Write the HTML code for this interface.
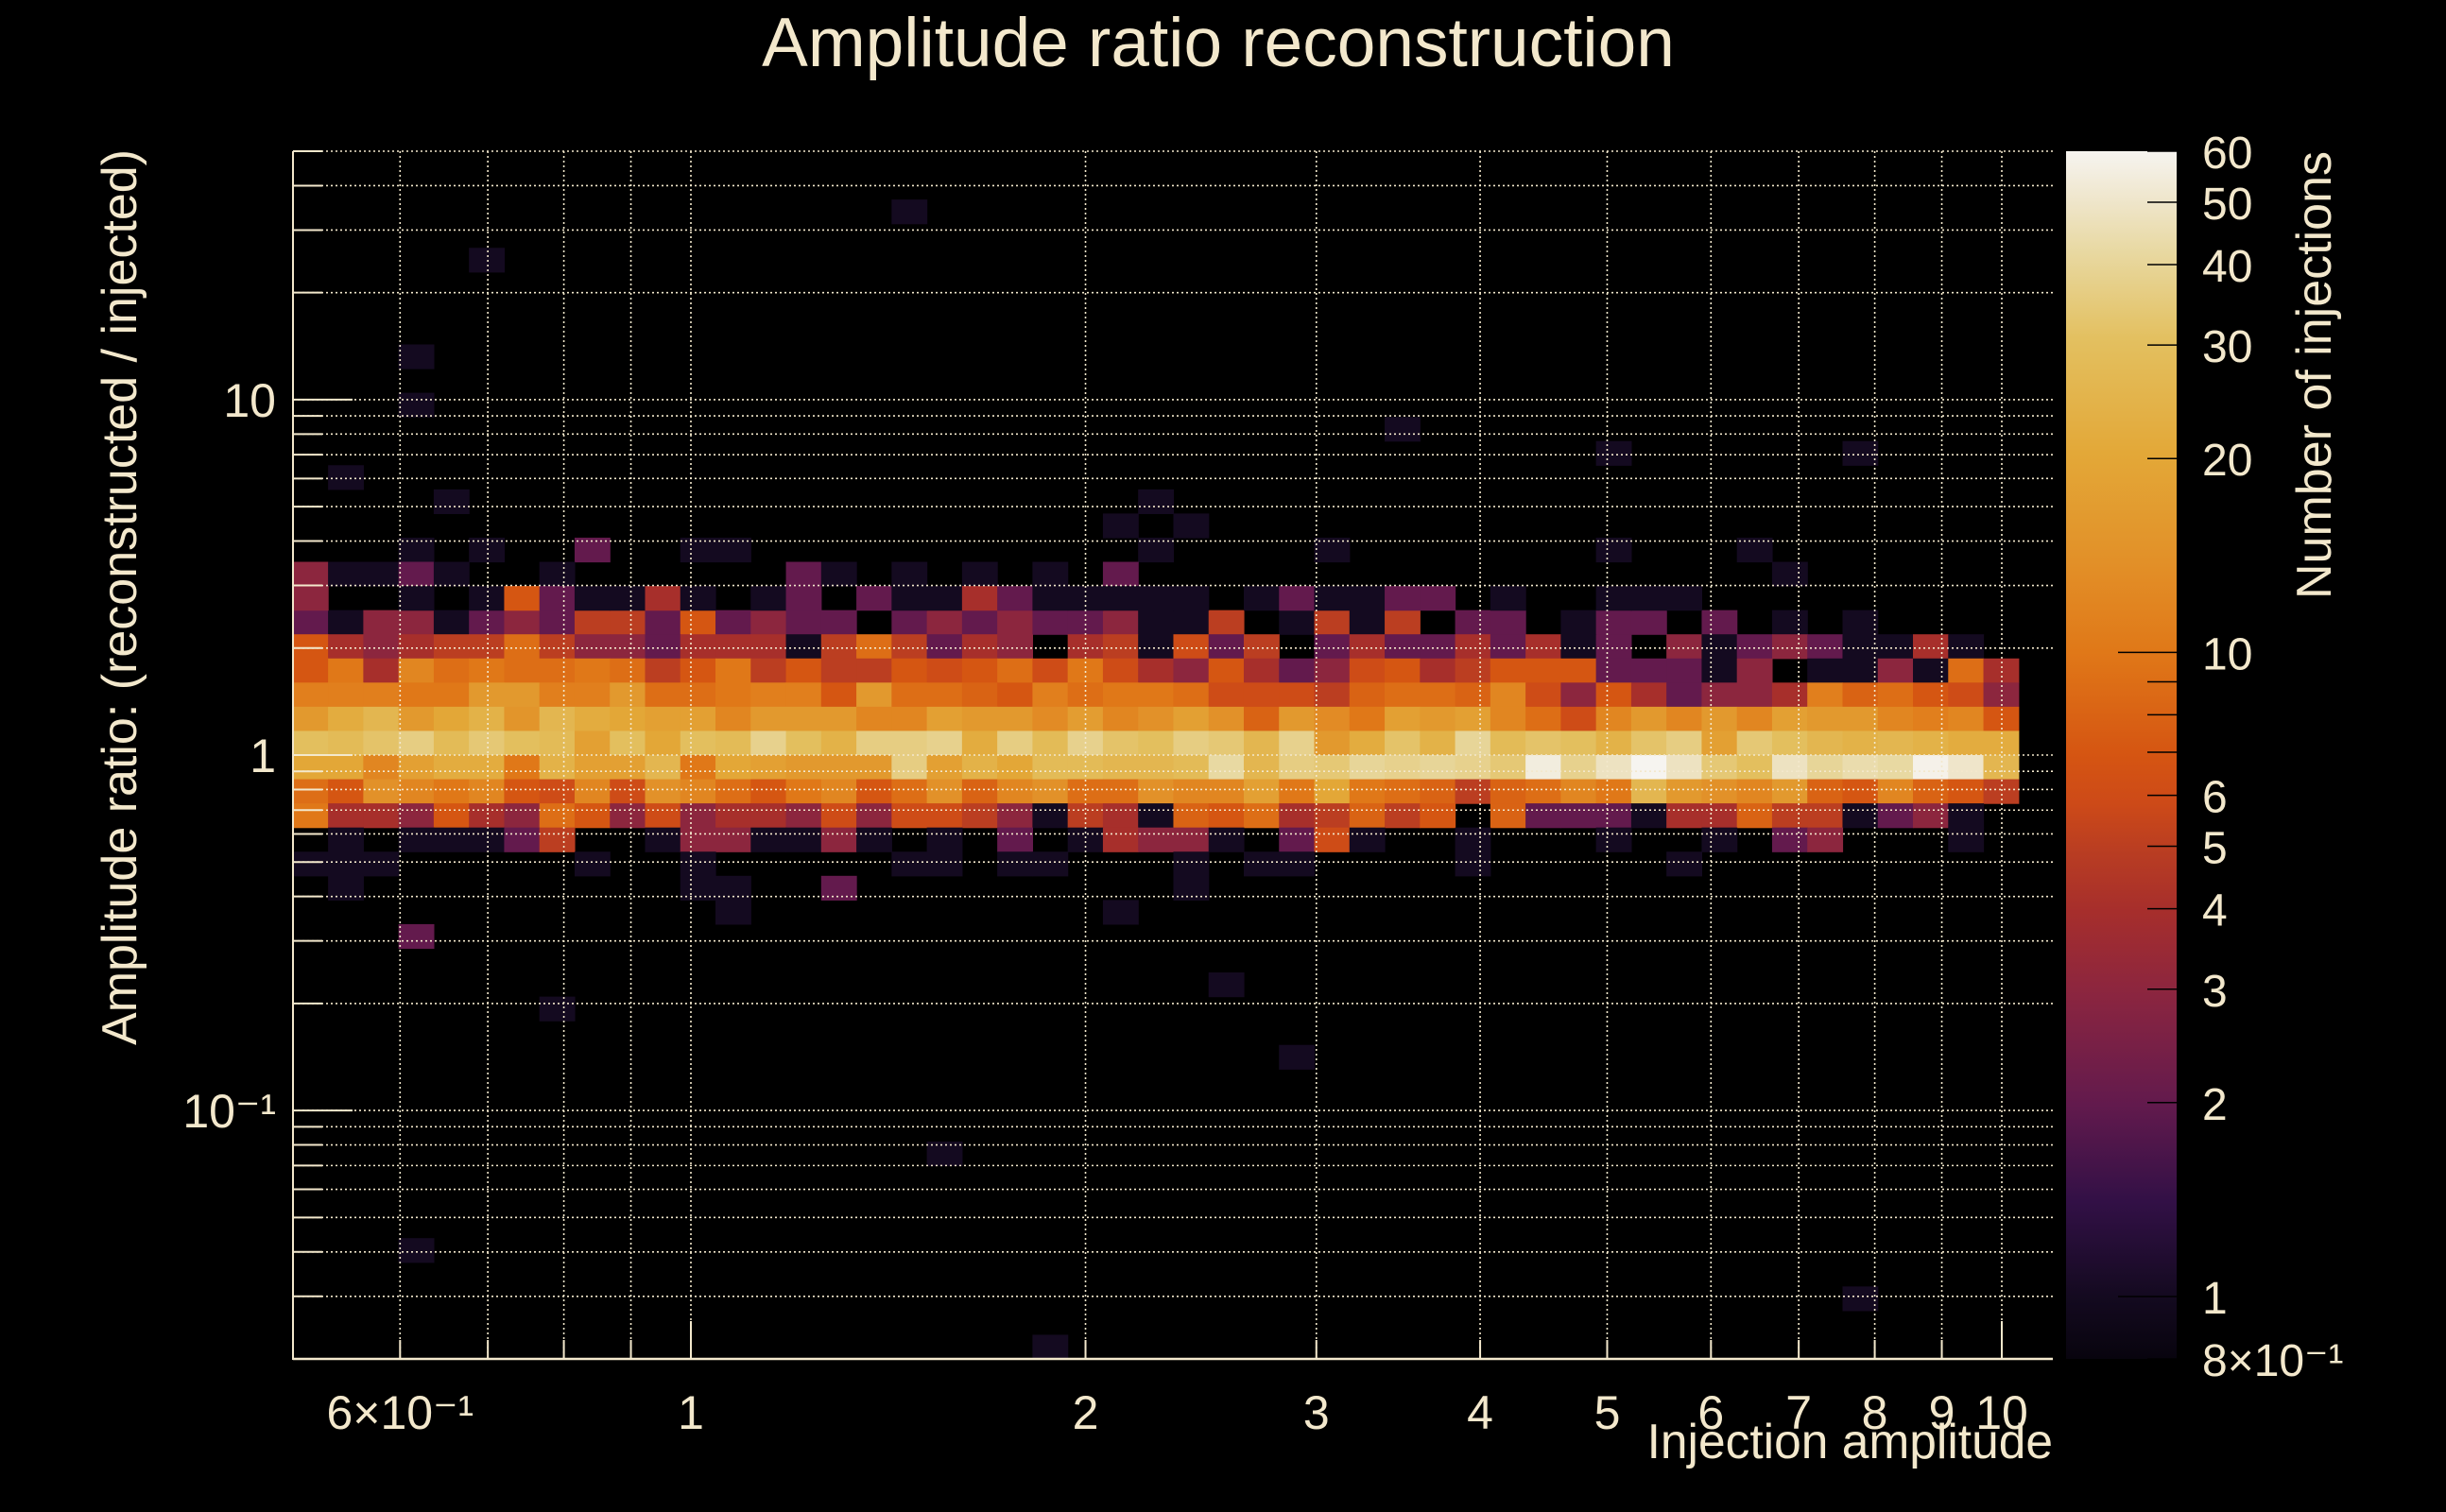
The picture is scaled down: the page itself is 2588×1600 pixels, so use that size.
<!DOCTYPE html>
<html><head><meta charset="utf-8"><style>
html,body{margin:0;padding:0;background:#000;}
svg{display:block;}
text{font-family:"Liberation Sans",sans-serif;fill:#f3e8cc;}
</style></head><body>
<svg id="chart" xmlns="http://www.w3.org/2000/svg" width="2588" height="1600" viewBox="0 0 2588 1600">
<rect x="0" y="0" width="2588" height="1600" fill="#000"/>
<text x="1289" y="70" font-size="73" text-anchor="middle">Amplitude ratio reconstruction</text>
<g id="cells"></g>
<g id="grid"></g>
<g id="axes"></g>
<g id="cbar"></g>
<text transform="translate(144,632) rotate(-90)" font-size="52" text-anchor="middle">Amplitude ratio: (reconstructed / injected)</text>
<text x="2172" y="1543" font-size="51.5" text-anchor="end">Injection amplitude</text>
<text transform="translate(2466,160) rotate(-90)" font-size="52" text-anchor="end">Number of injections</text>
</svg>
<script>
// ---- data ----
const xBinCount = 49;
const xBinMin = 0.497;
const xBinMax = 10.30;
const yBinCount = 50;
const yBinMin = 0.02;
const yBinMax = 50;
const row19 = [2,1,3,3,1,2,3,2,5,5,2,7,2,3,2,2,0,2,3,2,3,2,2,3,1, 1,5,0,1,5,1,5,0,2,2,0,1,2,2,0,2,0,1,0,1,0,0,0,0];
const row20 = [7,4,3,4,5,5,9,5,3,3,2,4,4,4,1,5,9,5,2,4,3,0,4,5,1, 6,2,5,0,2,4,2,2,4,2,4,1,2,0,3,1,2,3,2,1,1,4,1,0];
const row21 = [7,10,4,12,9,10,9,9,10,9,5,7,10,5,7,5,5,7,6,7,9,6,10,6,4, 3,7,4,2,3,6,7,4,5,7,7,7,2,2,2,1,3,0,1,1,3,1,9,4];
const row22 = [11,11,11,10,10,16,16,11,11,16,9,9,10,11,11,7,16,9,9,8,7,11,9,10,10, 9,6,6,6,5,8,9,9,8,12,6,3,7,4,2,3,3,4,11,8,9,7,6,3];
const row23 = [16,22,26,16,20,24,15,26,22,20,18,18,12,16,16,16,12,12,18,16,16,13,17,12,14, 18,14,8,16,13,10,18,16,18,12,9,6,12,16,12,16,12,18,16,16,12,11,12,7];
const row24 = [30,28,32,36,28,34,30,28,18,30,20,30,28,38,30,24,36,36,38,22,36,28,38,32,30, 36,34,26,38,16,22,32,24,40,28,32,30,24,32,36,18,34,30,26,24,26,24,22,22];
const row25 = [20,20,12,18,22,22,10,24,18,18,26,10,20,18,16,16,16,36,18,24,20,28,28,26,26, 28,42,26,36,34,40,38,40,38,34,55,38,48,60,48,34,30,48,40,44,42,58,50,26];
const row26 = [9,7,14,12,10,12,7,6,12,6,14,12,9,7,10,12,7,9,14,8,12,14,9,9,14, 12,12,18,10,20,10,9,8,5,8,9,12,10,26,16,14,12,16,8,7,12,8,7,5];
const row27 = [10,4,4,3,7,4,3,9,7,3,6,3,4,4,3,6,3,6,6,5,3,1,5,4,1, 8,7,9,4,5,8,5,7,0,8,2,2,2,1,4,4,8,5,5,1,2,3,1,0];
const row28 = [0,1,0,1,1,1,2,5,0,0,1,3,3,1,1,3,1,0,1,0,2,0,1,4,3, 3,1,0,2,6,1,0,0,1,0,0,0,1,0,0,1,0,2,3,0,0,0,1,0];
const denseRows = [19,20,21,22,23,24,25,26,27,28];
const denseData = [row19,row20,row21,row22,row23,row24,row25,row26,row27,row28];
// sparse cells: [column, row-from-top, count]
const sparseCells = [
 [17,2,1],[5,4,1],[3,8,1],[3,10,1],[31,11,1],[37,12,1],[44,12,1],[1,13,1],[4,14,1],[24,14,1],
 [23,15,1],[25,15,1],
 [3,16,1],[5,16,1],[8,16,2],[11,16,1],[12,16,1],[24,16,1],[29,16,1],[37,16,1],[41,16,1],
 [0,17,3],[1,17,1],[2,17,1],[3,17,2],[4,17,1],[7,17,1],[14,17,2],[15,17,1],[17,17,1],[19,17,1],[21,17,1],[23,17,2],[42,17,1],
 [0,18,3],[3,18,1],[5,18,1],[6,18,7],[7,18,2],[8,18,1],[9,18,1],[10,18,4],[11,18,1],[13,18,1],[14,18,2],[16,18,2],[17,18,1],[18,18,1],[19,18,4],[20,18,2],[21,18,1],[22,18,1],[23,18,1],[24,18,1],[25,18,1],[27,18,1],[28,18,2],[29,18,1],[30,18,1],[31,18,2],[32,18,2],[34,18,1],[37,18,1],[38,18,1],[39,18,1],
 [0,29,1],[1,29,1],[2,29,1],[8,29,1],[11,29,1],[17,29,1],[18,29,1],[20,29,1],[21,29,1],[25,29,1],[27,29,1],[28,29,1],[33,29,1],[39,29,1],
 [1,30,1],[11,30,1],[12,30,1],[15,30,2],[25,30,1],
 [12,31,1],[23,31,1],[3,32,2],[26,34,1],[7,35,1],[28,37,1],[18,41,1],[3,45,1],[44,47,1],[21,49,1]
];
const xTickValues = [0.6,1,2,3,4,5,6,7,8,9,10];
const xTickLabels = ["6×10⁻¹","1","2","3","4","5","6","7","8","9","10"];
const xGridValues = [0.6,0.7,0.8,0.9,1,2,3,4,5,6,7,8,9,10];
const yMajorValues = [0.1,1,10];
const yTickLabels = ["10⁻¹","1","10"];
const yGridValues = [0.02,0.03,0.04,0.05,0.06,0.07,0.08,0.09,0.1,0.2,0.3,0.4,0.5,0.6,0.7,0.8,0.9,1,2,3,4,5,6,7,8,9,10,20,30,40,50];
const zTickValues = [0.8,1,2,3,4,5,6,10,20,30,40,50,60];
const zTickLabels = ["8×10⁻¹","1","2","3","4","5","6","10","20","30","40","50","60"];
const zMinorValues = [7,8,9];
const zMin = 0.8, zMax = 60;

// ---- layout ----
const L = 310, R = 2172, T = 160, B = 1438;
const X1 = 731, XDEC = 1387;
const NS = "http://www.w3.org/2000/svg";
function xScale(v){ return X1 + Math.log10(v) * XDEC; }
function yScale(v){ return T + (Math.log10(yBinMax) - Math.log10(v)) / (Math.log10(yBinMax) - Math.log10(yBinMin)) * (B - T); }
const CB = {x0:2186, x1:2303};
function zScale(v){ return B - (Math.log10(v) - Math.log10(zMin)) / (Math.log10(zMax) - Math.log10(zMin)) * (B - T); }
const stops = [[0,[8,4,14]],[0.052,[20,10,32]],[0.13,[50,16,70]],[0.21,[98,26,77]],[0.3,[138,37,64]],[0.37,[166,46,44]],[0.42,[185,61,34]],[0.46,[205,74,24]],[0.5,[213,85,18]],[0.585,[224,120,24]],[0.66,[226,144,40]],[0.75,[227,168,56]],[0.845,[227,192,96]],[0.915,[232,216,160]],[0.96,[239,230,204]],[1,[246,244,240]]];
function color(z){
  let t = (Math.log10(z)-Math.log10(zMin))/(Math.log10(zMax)-Math.log10(zMin));
  t = Math.max(0, Math.min(1, t));
  for (let i=1;i<stops.length;i++){
    if (t <= stops[i][0]){
      const a=stops[i-1], b=stops[i], f=(t-a[0])/(b[0]-a[0]);
      const c=a[1].map((v,k)=>Math.round(v+(b[1][k]-v)*f));
      return `rgb(${c[0]},${c[1]},${c[2]})`;
    }
  }
  return "rgb(246,244,240)";
}
function mk(tag, attrs, parent){
  const e = document.createElementNS(NS, tag);
  for (const k in attrs) e.setAttribute(k, attrs[k]);
  parent.appendChild(e);
  return e;
}
const xw = (Math.log10(xBinMax)-Math.log10(xBinMin))/xBinCount;
const yw = (Math.log10(yBinMax)-Math.log10(yBinMin))/yBinCount;
function xEdge(c){ return xScale(Math.pow(10, Math.log10(xBinMin)+c*xw)); }
function yEdge(r){ return yScale(Math.pow(10, Math.log10(yBinMax)-r*yw)); }

const cells = document.getElementById('cells');
function drawCell(c, r, v){
  if (!(v > 0)) return;
  const x0 = xEdge(c), x1 = xEdge(c+1), y0 = yEdge(r), y1 = yEdge(r+1);
  const rc = mk('rect', {x:x0.toFixed(2), y:y0.toFixed(2), width:(x1-x0+0.6).toFixed(2), height:(y1-y0+0.6).toFixed(2), fill:color(v)}, cells);
  
  
}
denseData.forEach((arr, i) => arr.forEach((v, c) => drawCell(c, denseRows[i], v)));
sparseCells.forEach(s => drawCell(s[0], s[1], s[2]));

// grid
const grid = document.getElementById('grid');
xGridValues.forEach(v => {
  const x = xScale(v);
  const g = mk('line', {x1:x, x2:x, y1:T, y2:B, stroke:'#f3e8cc', 'stroke-width':1.6, 'stroke-dasharray':'2 3'}, grid);
  
  
});
yGridValues.forEach(v => {
  const y = yScale(v);
  const g = mk('line', {x1:L, x2:R, y1:y, y2:y, stroke:'#f3e8cc', 'stroke-width':1.6, 'stroke-dasharray':'2 3'}, grid);
  
  
});

// axes
const axes = document.getElementById('axes');
let a = mk('line', {x1:L, x2:L, y1:T, y2:B+1, stroke:'#f3e8cc', 'stroke-width':2}, axes);


a = mk('line', {x1:L, x2:R, y1:B, y2:B, stroke:'#f3e8cc', 'stroke-width':2.5}, axes);


yGridValues.forEach(v => {
  const y = yScale(v);
  const major = yMajorValues.includes(v);
  const t = mk('line', {x1:L, x2:L+(major?63:31), y1:y, y2:y, stroke:'#f3e8cc', 'stroke-width':2}, axes);
  
  
});
xGridValues.forEach(v => {
  const x = xScale(v);
  const t = mk('line', {x1:x, x2:x, y1:B, y2:B-(v===1||v===10?40:20), stroke:'#f3e8cc', 'stroke-width':2}, axes);
  
  
});
xTickValues.forEach((v, i) => {
  const t = mk('text', {x:xScale(v), y:1512, 'font-size':50, 'text-anchor':'middle'}, axes);
  t.textContent = xTickLabels[i];
  
  
});
yMajorValues.forEach((v, i) => {
  const t = mk('text', {x:292, y:yScale(v)+18, 'font-size':50, 'text-anchor':'end'}, axes);
  t.textContent = yTickLabels[i];
  
  
});

// colorbar
const cbar = document.getElementById('cbar');
const defs = mk('defs', {}, cbar);
const grad = mk('linearGradient', {id:'zg', x1:0, y1:1, x2:0, y2:0}, defs);
stops.forEach(s => mk('stop', {offset:s[0], 'stop-color':`rgb(${s[1].join(',')})`}, grad));
const cr = mk('rect', {x:CB.x0, y:T, width:CB.x1-CB.x0, height:B-T, fill:'url(#zg)'}, cbar);


zTickValues.concat(zMinorValues).forEach(v => {
  const y = zScale(v);
  const big = (v===1||v===10);
  const t = mk('line', {x1:CB.x1-(big?62:31), x2:CB.x1, y1:y, y2:y, stroke:'#000', 'stroke-width':1.5}, cbar);
  
  
});
zTickValues.forEach((v, i) => {
  const t = mk('text', {x:2330, y:zScale(v)+18, 'font-size':48}, cbar);
  t.textContent = zTickLabels[i];
  
  
});
</script>
</body></html>
